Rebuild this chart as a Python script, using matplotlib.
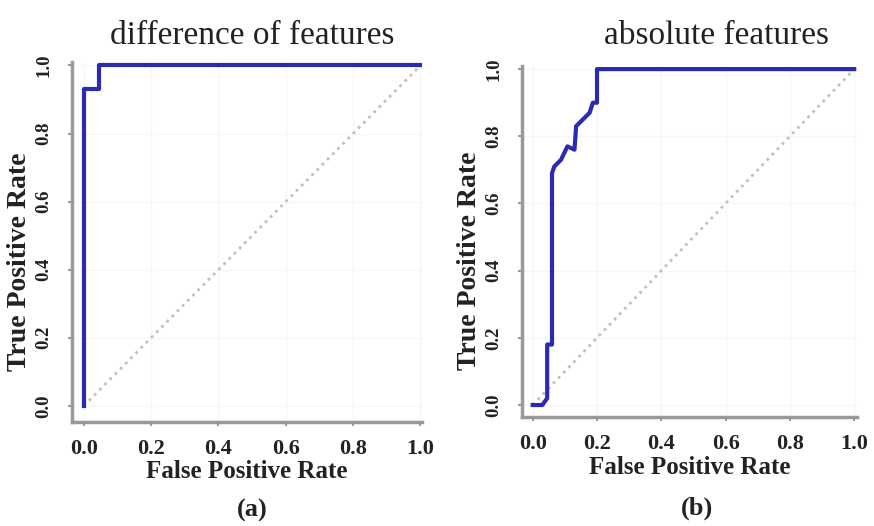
import matplotlib
matplotlib.use("Agg")
import matplotlib.pyplot as plt

plt.rcParams['font.family'] = ['Liberation Serif', 'DejaVu Serif']

# ROC curve (a): difference of features
fpr_diff = [0.0, 0.0, 0.045, 0.045, 1.0]
tpr_diff = [0.0, 0.93, 0.93, 1.0, 1.0]

# ROC curve (b): absolute features
fpr_abs = [0.0, 0.03, 0.045, 0.045, 0.06, 0.06, 0.067, 0.088, 0.108, 0.13,
           0.135, 0.177, 0.187, 0.2, 0.2, 1.0]
tpr_abs = [0.0, 0.0, 0.02, 0.18, 0.18, 0.69, 0.71, 0.73, 0.77, 0.76,
           0.83, 0.87, 0.90, 0.90, 1.0, 1.0]

ticks = [0.0, 0.2, 0.4, 0.6, 0.8, 1.0]
tick_labels = ['0.0', '0.2', '0.4', '0.6', '0.8', '1.0']

fig = plt.figure(figsize=(8.74, 5.26), dpi=100)

panels = [
    # rect, fpr, tpr, title, title x, title pad, tag, tag pos, xlim, ylim, xlabel y, ylabel x
    ([0.082, 0.198, 0.401, 0.684], fpr_diff, tpr_diff, 'difference of features', 0.515, 13,
     '(a)', (0.289, 0.030), (-0.036, 1.005), (-0.047, 1.01), -0.106, -0.114),
    ([0.597, 0.207, 0.384, 0.668], fpr_abs, tpr_abs, 'absolute features', 0.58, 16,
     '(b)', (0.797, 0.034), (-0.034, 1.01), (-0.036, 1.01), -0.111, -0.119),
]

for rect, fpr, tpr, title, tx, tpad, tag, tagpos, xl, yl, xly, ylx in panels:
    ax = fig.add_axes(rect)
    ax.grid(True, color='#f6f6f6', linewidth=1)
    ax.plot([0, 1], [0, 1], color='#c0c0c0', linestyle=':', linewidth=2)
    ax.plot(fpr, tpr, color='#2a2ab5', linewidth=3)
    ax.set_xlim(*xl)
    ax.set_ylim(*yl)
    ax.set_xticks(ticks)
    ax.set_yticks(ticks)
    ax.set_xticklabels(tick_labels, fontsize=16, fontweight='bold')
    ax.set_yticklabels(tick_labels, fontsize=13.5, fontweight='bold',
                       rotation=90, va='center')
    for s in ['top', 'right']:
        ax.spines[s].set_visible(False)
    for s in ['left', 'bottom']:
        ax.spines[s].set_color('#999999')
        ax.spines[s].set_linewidth(2.5)
    ax.tick_params(colors='#999999', length=3, width=1.5, labelcolor='#222222')
    ax.tick_params(axis='x', pad=9)
    ax.tick_params(axis='y', pad=11)
    ax.set_xlabel('False Positive Rate', fontsize=18, fontweight='bold', color='#222222')
    ax.set_ylabel('True Positive Rate', fontsize=20, fontweight='bold', color='#222222')
    ax.xaxis.set_label_coords(0.5, xly)
    ax.yaxis.set_label_coords(ylx, 0.445)
    ax.set_title(title, fontsize=24, color='#222222', x=tx, pad=tpad)
    fig.text(tagpos[0], tagpos[1], tag, ha='center', va='center',
             fontsize=19, fontweight='bold', color='#222222')

fig.savefig('out.png', dpi=100)
